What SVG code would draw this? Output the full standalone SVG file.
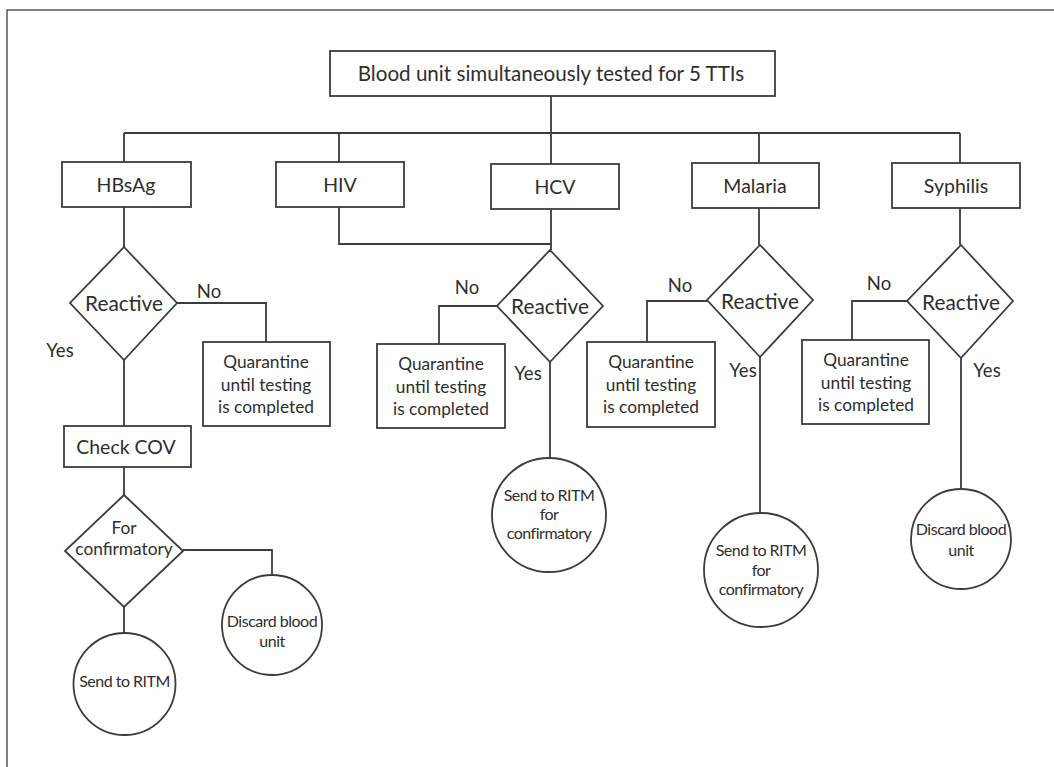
<svg xmlns="http://www.w3.org/2000/svg" width="1054" height="767" viewBox="0 0 1054 767">
<style>
.ln{fill:none;stroke:#3c3c3c;stroke-width:1.8}
.nd{fill:#fff;stroke:#3c3c3c;stroke-width:1.8}
text{font-family:Lato,"Open Sans",sans-serif;fill:#2e2e2e;text-anchor:middle;dominant-baseline:central}
.t1{font-size:20.6px}
.bx{font-size:19.5px}
.rc{font-size:20.8px}
.q{font-size:17.3px}
.yn{font-size:18.5px}
.c{font-size:16px;letter-spacing:-0.5px}
</style>
<rect x="0" y="0" width="1054" height="767" fill="#fff"/>
<rect x="7" y="10" width="1070" height="780" fill="none" stroke="#555" stroke-width="1.5"/>
<g id="connectors">
<path class="ln" d="M551 96V164M124 133H960M124 133V162M339 133V162M759 133V163M960 133V163"/>
<path class="ln" d="M339 207V244H551M551 209V250"/>
<path class="ln" d="M124 207V247M124 360V426M177 303H266V342M124 467V495M183 550H272V575M124 607V633"/>
<path class="ln" d="M497 306H439V344M550 362V458"/>
<path class="ln" d="M759 208V245M707 301H647V342M760 357V513"/>
<path class="ln" d="M960 208V245M907 301H852V340M961 358V489"/>
</g>
<g id="top"><rect class="nd" x="330" y="51" width="445" height="45"/><text class="t1" x="551" y="73">Blood unit simultaneously tested for 5 TTIs</text></g>
<g id="hbsag"><rect class="nd" x="62" y="162" width="129" height="45"/><text class="bx" x="126" y="184">HBsAg</text></g>
<g id="hiv"><rect class="nd" x="276" y="162" width="128" height="45"/><text class="bx" x="340" y="184">HIV</text></g>
<g id="hcv"><rect class="nd" x="491" y="164" width="128" height="45"/><text class="bx" x="555" y="186">HCV</text></g>
<g id="malaria"><rect class="nd" x="692" y="163" width="127" height="45"/><text class="bx" x="755" y="185">Malaria</text></g>
<g id="syphilis"><rect class="nd" x="892" y="163" width="128" height="45"/><text class="bx" x="956" y="185">Syphilis</text></g>
<g id="d-hbsag"><polygon class="nd" points="124,247 177,303 124,360 70,303"/><text class="rc" x="124" y="302">Reactive</text></g>
<g id="d-hcv"><polygon class="nd" points="550,250 603,306 550,362 497,306"/><text class="rc" x="550" y="305">Reactive</text></g>
<g id="d-malaria"><polygon class="nd" points="760,245 813,300 760,357 707,300"/><text class="rc" x="760" y="300">Reactive</text></g>
<g id="d-syphilis"><polygon class="nd" points="961,245 1013,301 961,358 907,301"/><text class="rc" x="961" y="301">Reactive</text></g>
<g id="labels">
<text class="yn" x="209" y="291">No</text><text class="yn" x="60" y="350">Yes</text>
<text class="yn" x="467" y="287">No</text><text class="yn" x="528" y="373">Yes</text>
<text class="yn" x="680" y="285">No</text><text class="yn" x="743" y="370">Yes</text>
<text class="yn" x="879" y="283">No</text><text class="yn" x="987" y="370">Yes</text>
</g>
<g id="q-hbsag"><rect class="nd" x="203" y="342" width="127" height="84"/><text class="q" x="266" y="361">Quarantine</text><text class="q" x="266" y="384">until testing</text><text class="q" x="266" y="406">is completed</text></g>
<g id="q-hcv"><rect class="nd" x="377" y="344" width="128" height="84"/><text class="q" x="441" y="363">Quarantine</text><text class="q" x="441" y="386">until testing</text><text class="q" x="441" y="408">is completed</text></g>
<g id="q-malaria"><rect class="nd" x="587" y="342" width="128" height="85"/><text class="q" x="651" y="361">Quarantine</text><text class="q" x="651" y="384">until testing</text><text class="q" x="651" y="406">is completed</text></g>
<g id="q-syphilis"><rect class="nd" x="802" y="340" width="127" height="84"/><text class="q" x="866" y="359">Quarantine</text><text class="q" x="866" y="382">until testing</text><text class="q" x="866" y="404">is completed</text></g>
<g id="checkcov"><rect class="nd" x="64" y="426" width="127" height="41"/><text class="bx" x="126" y="446">Check COV</text></g>
<g id="d-confirm"><polygon class="nd" points="124,495 183,551 124,607 65,551"/><text class="q" x="124" y="527">For</text><text class="q" x="124" y="548">confirmatory</text></g>
<g id="c-discard1"><circle class="nd" cx="272" cy="625" r="50"/><text class="c" x="272" y="620">Discard blood</text><text class="c" x="272" y="640">unit</text></g>
<g id="c-send1"><circle class="nd" cx="124.5" cy="684" r="51"/><text class="c" x="124.5" y="680">Send to RITM</text></g>
<g id="c-send2"><circle class="nd" cx="549" cy="515" r="57"/><text class="c" x="549" y="494">Send to RITM</text><text class="c" x="549" y="513">for</text><text class="c" x="549" y="532">confirmatory</text></g>
<g id="c-send3"><circle class="nd" cx="761" cy="570" r="57"/><text class="c" x="761" y="549">Send to RITM</text><text class="c" x="761" y="569">for</text><text class="c" x="761" y="588">confirmatory</text></g>
<g id="c-discard2"><circle class="nd" cx="961" cy="539" r="50"/><text class="c" x="961" y="528">Discard blood</text><text class="c" x="961" y="549">unit</text></g>
</svg>
